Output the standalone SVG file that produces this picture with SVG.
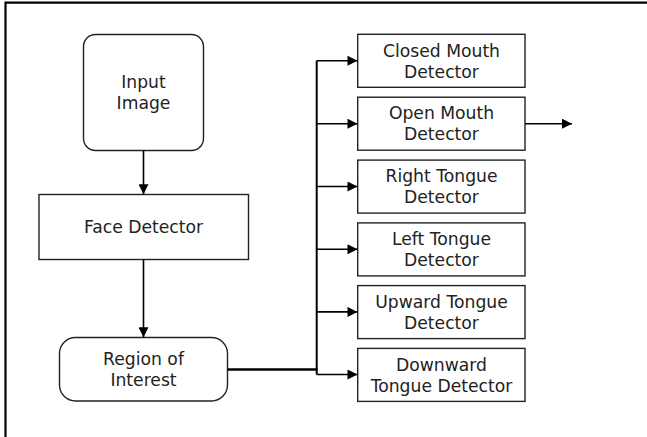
<svg xmlns="http://www.w3.org/2000/svg" width="647" height="437" viewBox="0 0 647 437">
<defs>
<style>
.box{fill:#fff;stroke:#222;stroke-width:1.4}
.t{font-family:"DejaVu Sans",Verdana,sans-serif;font-size:17.2px;fill:#222;text-anchor:middle}
.c{fill:none;stroke:#000;stroke-width:1.6}
</style>
<marker id="ah" viewBox="0 0 10 10" refX="10" refY="5" markerWidth="11" markerHeight="10" markerUnits="userSpaceOnUse" orient="auto">
<path d="M0,0 L10,5 L0,10 Z" fill="#000"/>
</marker>
</defs>
<rect width="647" height="437" fill="#fff"/>
<path d="M5.5,437 V2.7 H647" fill="none" stroke="#000" stroke-width="2.2"/>
<g id="input">
<rect class="box" x="83.5" y="34.5" width="120" height="116" rx="12"/>
<text class="t" x="143.5" y="87.5">Input</text>
<text class="t" x="143.5" y="108.5">Image</text>
</g>
<g id="face">
<rect class="box" x="39" y="194.5" width="209.5" height="65"/>
<text class="t" x="143.5" y="232.5">Face Detector</text>
</g>
<g id="roi">
<rect class="box" x="59.5" y="337.5" width="168" height="63.5" rx="16"/>
<text class="t" x="143.5" y="364.5">Region of</text>
<text class="t" x="143.5" y="385.5">Interest</text>
</g>
<g id="closed">
<rect class="box" x="357.7" y="34.3" width="167.3" height="53"/>
<text class="t" x="441.5" y="56.5">Closed Mouth</text>
<text class="t" x="441.5" y="77.5">Detector</text>
</g>
<g id="open">
<rect class="box" x="357.7" y="97.2" width="167.3" height="53"/>
<text class="t" x="441.5" y="119.4">Open Mouth</text>
<text class="t" x="441.5" y="140.4">Detector</text>
</g>
<g id="right">
<rect class="box" x="357.7" y="160.1" width="167.3" height="53"/>
<text class="t" x="441.5" y="182.3">Right Tongue</text>
<text class="t" x="441.5" y="203.3">Detector</text>
</g>
<g id="left">
<rect class="box" x="357.7" y="222.9" width="167.3" height="53"/>
<text class="t" x="441.5" y="245.1">Left Tongue</text>
<text class="t" x="441.5" y="266.1">Detector</text>
</g>
<g id="upward">
<rect class="box" x="357.7" y="285.6" width="167.3" height="53"/>
<text class="t" x="441.5" y="307.8">Upward Tongue</text>
<text class="t" x="441.5" y="328.8">Detector</text>
</g>
<g id="downward">
<rect class="box" x="357.7" y="348.4" width="167.3" height="53"/>
<text class="t" x="441.5" y="370.6">Downward</text>
<text class="t" x="441.5" y="391.6">Tongue Detector</text>
</g>
<g id="connectors">
<path class="c" d="M143.5,150.5 V194.3" marker-end="url(#ah)"/>
<path class="c" d="M143.5,259.5 V337.3" marker-end="url(#ah)"/>
<path d="M227.5,369.5 H317.5" fill="none" stroke="#000" stroke-width="2.6"/>
<path d="M316.7,60.7 V374.5" fill="none" stroke="#000" stroke-width="2"/>
<path class="c" d="M316.7,60.7 H357.5" marker-end="url(#ah)"/>
<path class="c" d="M316.7,123.7 H357.5" marker-end="url(#ah)"/>
<path class="c" d="M316.7,186.5 H357.5" marker-end="url(#ah)"/>
<path class="c" d="M316.7,249.3 H357.5" marker-end="url(#ah)"/>
<path class="c" d="M316.7,311.9 H357.5" marker-end="url(#ah)"/>
<path class="c" d="M316.7,374.5 H357.5" marker-end="url(#ah)"/>
<path class="c" d="M525,123.7 H572" marker-end="url(#ah)"/>
</g>
</svg>
